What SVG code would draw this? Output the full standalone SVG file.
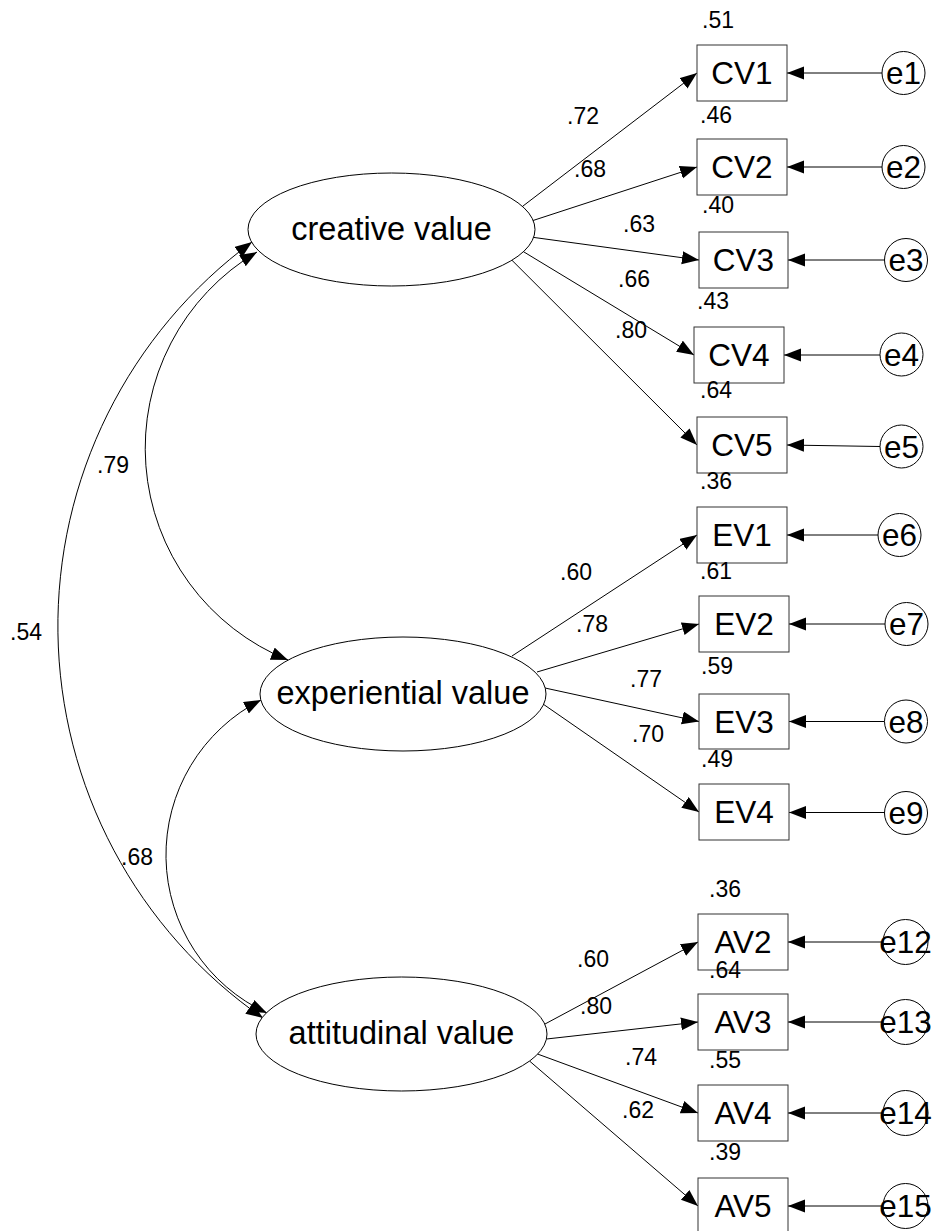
<svg xmlns="http://www.w3.org/2000/svg" width="933" height="1231" viewBox="0 0 933 1231">
<style>
.ln{fill:none;stroke:#000;stroke-width:1}
.bx{fill:#fff;stroke:#333;stroke-width:1}
.el{fill:#fff;stroke:#000;stroke-width:1}
.ci{fill:#fff;stroke:#000;stroke-width:1}
.t{font-family:"Liberation Sans",Arial,sans-serif;fill:#000;text-anchor:middle}
.lb{font-size:31.5px}
.lat{font-size:32.5px}
.nm{font-size:23px}
</style>
<defs>
<marker id="ah" markerUnits="userSpaceOnUse" markerWidth="18" markerHeight="14" refX="17" refY="6.5" orient="auto-start-reverse">
<path d="M0,0 L17,6.5 L0,13 z" fill="#000"/>
</marker>
</defs>
<rect width="933" height="1231" fill="#fff"/>
<g id="connectors">
<path class="ln" marker-start="url(#ah)" marker-end="url(#ah)" d="M257,252 A228.3,228.3 0 0,0 288,660"/>
<path class="ln" marker-start="url(#ah)" marker-end="url(#ah)" d="M252,242 A477,477 0 0,0 263,1018"/>
<path class="ln" marker-start="url(#ah)" marker-end="url(#ah)" d="M261,700 A174,174 0 0,0 267,1013"/>
<path class="ln" marker-end="url(#ah)" d="M522.5,206.4 L697,73"/>
<path class="ln" marker-end="url(#ah)" d="M533,220.5 L697,167"/>
<path class="ln" marker-end="url(#ah)" d="M533.5,237.4 L699,260"/>
<path class="ln" marker-end="url(#ah)" d="M523.5,251.7 L694,355"/>
<path class="ln" marker-end="url(#ah)" d="M512,260.3 L697,445"/>
<path class="ln" marker-end="url(#ah)" d="M512,656 L697,535"/>
<path class="ln" marker-end="url(#ah)" d="M537,672 L699,624"/>
<path class="ln" marker-end="url(#ah)" d="M545,688 L699,721.5"/>
<path class="ln" marker-end="url(#ah)" d="M543,704 L699,812"/>
<path class="ln" marker-end="url(#ah)" d="M545,1024 L698,942"/>
<path class="ln" marker-end="url(#ah)" d="M546.5,1039 L698,1022"/>
<path class="ln" marker-end="url(#ah)" d="M537.5,1054 L698,1113"/>
<path class="ln" marker-end="url(#ah)" d="M529.5,1061 L698,1206"/>
<path class="ln" marker-end="url(#ah)" d="M882,73 L787,73"/>
<path class="ln" marker-end="url(#ah)" d="M882,167 L787,167"/>
<path class="ln" marker-end="url(#ah)" d="M884.5,260 L788,260"/>
<path class="ln" marker-end="url(#ah)" d="M880,355 L784,355"/>
<path class="ln" marker-end="url(#ah)" d="M880,446.5 L787,445"/>
<path class="ln" marker-end="url(#ah)" d="M878,535 L787,535"/>
<path class="ln" marker-end="url(#ah)" d="M885,624 L789,624"/>
<path class="ln" marker-end="url(#ah)" d="M884.5,721.5 L789,721.5"/>
<path class="ln" marker-end="url(#ah)" d="M884.5,812.5 L789,812.5"/>
<path class="ln" marker-end="url(#ah)" d="M883,942 L788,942"/>
<path class="ln" marker-end="url(#ah)" d="M883,1022 L788,1022"/>
<path class="ln" marker-end="url(#ah)" d="M883,1113 L788,1113"/>
<path class="ln" marker-end="url(#ah)" d="M883,1206 L788,1206"/>
</g>
<g id="creative"><ellipse class="el" cx="391.5" cy="229.5" rx="143.5" ry="56.5"/><text class="t lat" x="391.5" y="239.5">creative value</text></g>
<g id="experiential"><ellipse class="el" cx="403" cy="694" rx="143" ry="57"/><text class="t lat" x="403" y="704">experiential value</text></g>
<g id="attitudinal"><ellipse class="el" cx="401.5" cy="1034" rx="145.5" ry="57"/><text class="t lat" x="401.5" y="1044">attitudinal value</text></g>
<g id="CV1"><rect class="bx" x="697" y="45" width="90" height="56"/><text class="t lb" x="742" y="84">CV1</text></g>
<g id="CV2"><rect class="bx" x="697" y="139" width="90" height="56"/><text class="t lb" x="742" y="178">CV2</text></g>
<g id="CV3"><rect class="bx" x="699" y="232" width="89" height="56"/><text class="t lb" x="743.5" y="271">CV3</text></g>
<g id="CV4"><rect class="bx" x="694" y="327" width="90" height="56"/><text class="t lb" x="739" y="366">CV4</text></g>
<g id="CV5"><rect class="bx" x="697" y="417" width="90" height="56"/><text class="t lb" x="742" y="456">CV5</text></g>
<g id="EV1"><rect class="bx" x="697" y="507" width="90" height="56"/><text class="t lb" x="742" y="546">EV1</text></g>
<g id="EV2"><rect class="bx" x="699" y="596" width="90" height="56"/><text class="t lb" x="744" y="635">EV2</text></g>
<g id="EV3"><rect class="bx" x="699" y="694" width="90" height="55"/><text class="t lb" x="744" y="732.5">EV3</text></g>
<g id="EV4"><rect class="bx" x="699" y="784" width="90" height="56"/><text class="t lb" x="744" y="823">EV4</text></g>
<g id="AV2"><rect class="bx" x="698" y="914" width="90" height="56"/><text class="t lb" x="743" y="953">AV2</text></g>
<g id="AV3"><rect class="bx" x="698" y="994" width="90" height="56"/><text class="t lb" x="743" y="1033">AV3</text></g>
<g id="AV4"><rect class="bx" x="698" y="1085" width="90" height="56"/><text class="t lb" x="743" y="1124">AV4</text></g>
<g id="AV5"><rect class="bx" x="698" y="1178" width="90" height="56"/><text class="t lb" x="743" y="1217">AV5</text></g>
<g id="e1"><circle class="ci" cx="903.5" cy="73" r="21.5"/><text class="t lb" x="903.5" y="84">e1</text></g>
<g id="e2"><circle class="ci" cx="903.5" cy="167" r="21.5"/><text class="t lb" x="903.5" y="178">e2</text></g>
<g id="e3"><circle class="ci" cx="906" cy="260" r="21.5"/><text class="t lb" x="906" y="271">e3</text></g>
<g id="e4"><circle class="ci" cx="901.5" cy="354.5" r="21.5"/><text class="t lb" x="901.5" y="365.5">e4</text></g>
<g id="e5"><circle class="ci" cx="901.5" cy="446.5" r="21.5"/><text class="t lb" x="901.5" y="457.5">e5</text></g>
<g id="e6"><circle class="ci" cx="899.5" cy="535" r="21.5"/><text class="t lb" x="899.5" y="546">e6</text></g>
<g id="e7"><circle class="ci" cx="906.5" cy="624" r="21.5"/><text class="t lb" x="906.5" y="635">e7</text></g>
<g id="e8"><circle class="ci" cx="906" cy="721.5" r="21.5"/><text class="t lb" x="906" y="732.5">e8</text></g>
<g id="e9"><circle class="ci" cx="906" cy="813" r="21.5"/><text class="t lb" x="906" y="824">e9</text></g>
<g id="e12"><circle class="ci" cx="905.5" cy="942" r="22.5"/><text class="t lb" x="905.5" y="953">e12</text></g>
<g id="e13"><circle class="ci" cx="905.5" cy="1022" r="22.5"/><text class="t lb" x="905.5" y="1033">e13</text></g>
<g id="e14"><circle class="ci" cx="905.5" cy="1113" r="22.5"/><text class="t lb" x="905.5" y="1124">e14</text></g>
<g id="e15"><circle class="ci" cx="905.5" cy="1206" r="22.5"/><text class="t lb" x="905.5" y="1217">e15</text></g>
<g id="labels" class="t nm">
<text x="718" y="28">.51</text>
<text x="716" y="123">.46</text>
<text x="718" y="213">.40</text>
<text x="713" y="309">.43</text>
<text x="716" y="398">.64</text>
<text x="716" y="489">.36</text>
<text x="716" y="579">.61</text>
<text x="717" y="674">.59</text>
<text x="717" y="767">.49</text>
<text x="725" y="897">.36</text>
<text x="725" y="978">.64</text>
<text x="725" y="1068">.55</text>
<text x="725" y="1160">.39</text>
<text x="583" y="124">.72</text>
<text x="590" y="177">.68</text>
<text x="639" y="232">.63</text>
<text x="634" y="287">.66</text>
<text x="631" y="338">.80</text>
<text x="576" y="580">.60</text>
<text x="592" y="632">.78</text>
<text x="646" y="687">.77</text>
<text x="648" y="742">.70</text>
<text x="593" y="967">.60</text>
<text x="596" y="1014">.80</text>
<text x="641" y="1065">.74</text>
<text x="638" y="1118">.62</text>
<text x="113" y="473">.79</text>
<text x="26" y="640">.54</text>
<text x="137" y="865">.68</text>
</g>
</svg>
